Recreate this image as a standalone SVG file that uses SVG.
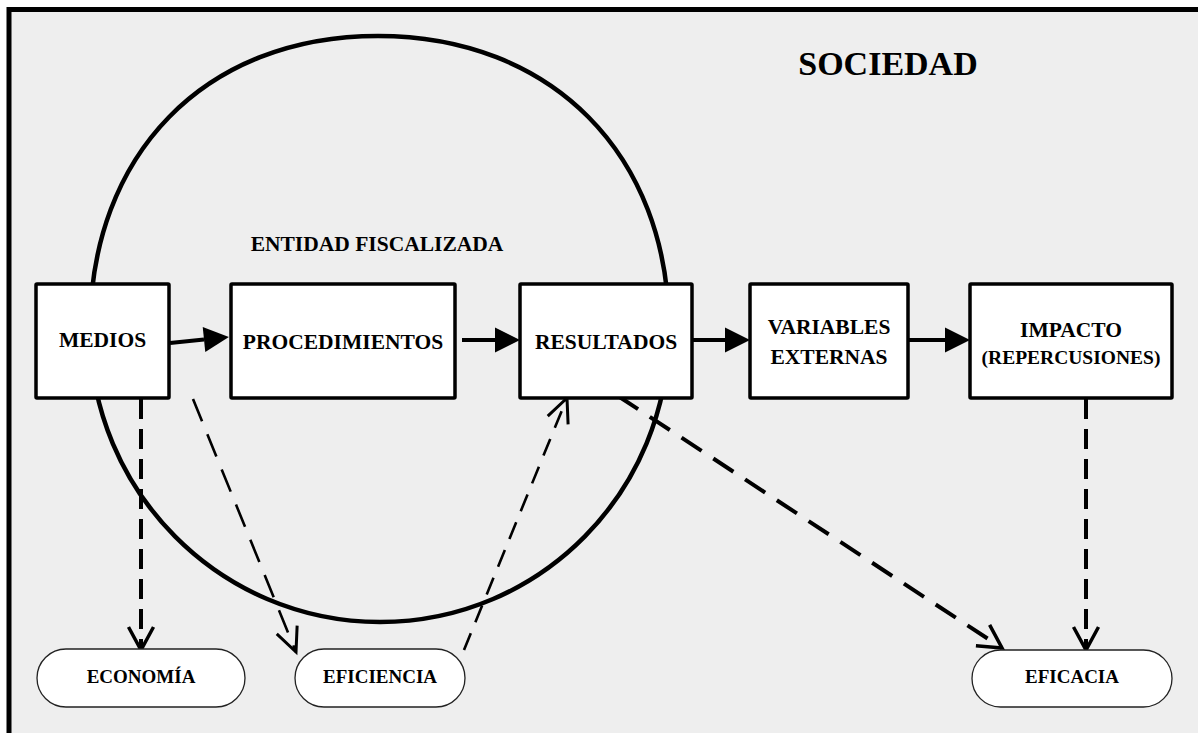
<svg xmlns="http://www.w3.org/2000/svg" width="1198" height="733" viewBox="0 0 1198 733">
<style>
.t{font-family:"Liberation Serif","Times New Roman",serif;font-weight:bold;fill:#000;text-anchor:middle}
.box{fill:#fff;stroke:#000;stroke-width:3.5}
.oval{fill:#fff;stroke:#222;stroke-width:1.3}
.solid{fill:none;stroke:#000;stroke-width:4}
.dthick{fill:none;stroke:#000;stroke-width:4}
.dthin{fill:none;stroke:#000;stroke-width:2.6}
</style>
<defs>
<marker id="fa" markerUnits="userSpaceOnUse" markerWidth="30" markerHeight="30" refX="0" refY="0" orient="auto" overflow="visible">
<path d="M0,-12.5 L25,0 L0,12.5 z" fill="#000" stroke="none"/>
</marker>
<marker id="va" markerUnits="userSpaceOnUse" markerWidth="30" markerHeight="30" refX="0" refY="0" orient="auto" overflow="visible">
<path d="M-23,-12.5 L0,0 L-23,12.5" fill="none" stroke="#000" stroke-width="3.5" stroke-dasharray="none"/>
</marker>
<marker id="vb" markerUnits="userSpaceOnUse" markerWidth="30" markerHeight="30" refX="0" refY="0" orient="auto" overflow="visible">
<path d="M-24,-11 L0,0 L-24,11" fill="none" stroke="#000" stroke-width="3" stroke-dasharray="none"/>
</marker>
</defs>
<rect x="0" y="0" width="1198" height="733" fill="#fff"/>
<rect id="sociedad-frame" x="9" y="9.5" width="1200" height="740" fill="#eeeeee" stroke="#000" stroke-width="5"/>
<g id="sociedad"><text class="t" x="888" y="75" font-size="34">SOCIEDAD</text></g>
<g id="entidad">
<path d="M90,330 C90,154 205,36 378,36 C551,36 669,154 669,330 C669,491 541,622 380,622 C220,622 90,491 90,330 Z" fill="none" stroke="#000" stroke-width="4.5"/>
<text class="t" x="377" y="251" font-size="21.5">ENTIDAD FISCALIZADA</text>
</g>
<g id="connectors">
<path class="solid" d="M170,343 L204,339.5" marker-end="url(#fa)"/>
<path class="solid" d="M462,340 L495,340" marker-end="url(#fa)"/>
<path class="solid" d="M692,340 L725,340" marker-end="url(#fa)"/>
<path class="solid" d="M908,340 L945,340" marker-end="url(#fa)"/>
<path class="dthick" d="M141,399 L141,650" stroke-dasharray="20,10" marker-end="url(#va)"/>
<path class="dthin" d="M193,399 L296,652" stroke-dasharray="24,14" marker-end="url(#vb)"/>
<path class="dthin" d="M464,650 L567,398" stroke-dasharray="18,12" marker-end="url(#vb)"/>
<path class="dthick" d="M618,396 L1002,648" stroke-dasharray="24,14" marker-end="url(#va)"/>
<path class="dthick" d="M1086,399 L1086,650" stroke-dasharray="20,10" marker-end="url(#va)"/>
</g>
<g id="medios"><rect class="box" x="36" y="284" width="133" height="114" rx="1"/><text class="t" x="102.5" y="347" font-size="21.5">MEDIOS</text></g>
<g id="procedimientos"><rect class="box" x="231" y="284" width="224" height="114" rx="1"/><text class="t" x="343" y="349" font-size="21.5">PROCEDIMIENTOS</text></g>
<g id="resultados"><rect class="box" x="520" y="284" width="172" height="114" rx="1"/><text class="t" x="606" y="349" font-size="21.5">RESULTADOS</text></g>
<g id="variables"><rect class="box" x="750" y="284" width="158" height="114" rx="1"/><text class="t" x="829" y="334" font-size="21.5">VARIABLES</text><text class="t" x="829" y="364" font-size="21.5">EXTERNAS</text></g>
<g id="impacto"><rect class="box" x="970" y="284" width="202" height="114" rx="1"/><text class="t" x="1071" y="337" font-size="21.5">IMPACTO</text><text class="t" x="1071" y="364" font-size="19.5">(REPERCUSIONES)</text></g>
<g id="economia"><rect class="oval" x="37" y="649" width="208" height="58" rx="29"/><text class="t" x="141" y="683" font-size="19">ECONOMÍA</text></g>
<g id="eficiencia"><rect class="oval" x="295" y="649" width="170" height="58" rx="29"/><text class="t" x="380" y="683" font-size="19">EFICIENCIA</text></g>
<g id="eficacia"><rect class="oval" x="972" y="650" width="200" height="57" rx="28.5"/><text class="t" x="1072" y="683" font-size="19">EFICACIA</text></g>
</svg>
